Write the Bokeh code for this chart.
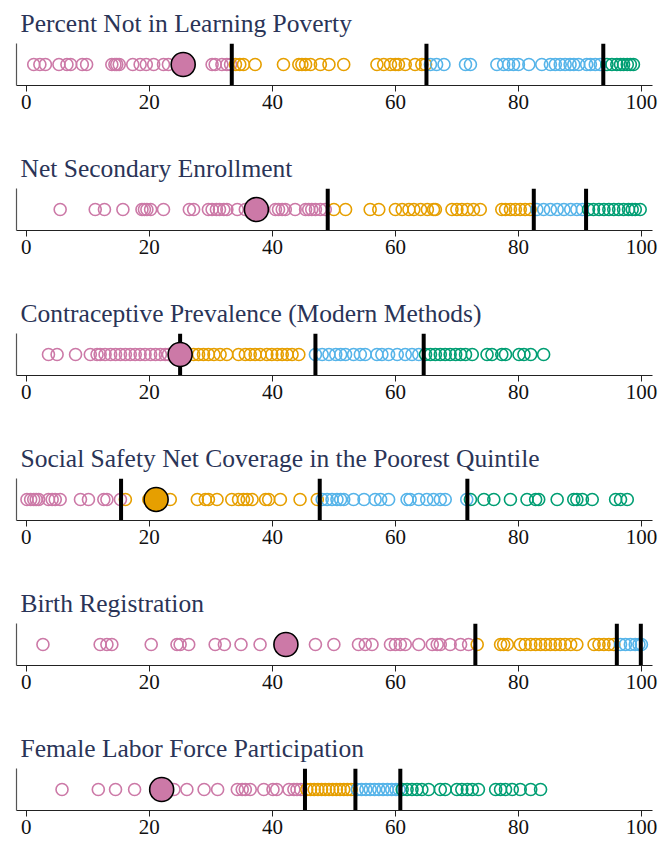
from bokeh.plotting import figure
from bokeh.layouts import column
from bokeh.models import Range1d, FixedTicker
from bokeh.embed import file_html
from bokeh.resources import INLINE

# ---------------- data ----------------
titles = [
    "Percent Not in Learning Poverty",
    "Net Secondary Enrollment",
    "Contraceptive Prevalence (Modern Methods)",
    "Social Safety Net Coverage in the Poorest Quintile",
    "Birth Registration",
    "Female Labor Force Participation",
]

# Panel 1
p1_q1 = [1.2, 2.2, 3.1, 5.3, 6.6, 7.2, 9.1, 9.8, 13.9, 14.4, 14.7, 15.1, 17.3, 18.5, 19.5, 20.7, 22.3, 23.1, 30.2, 30.7, 31.8, 32.6, 33.2]
p1_q2 = [34.0, 34.7, 35.3, 37.2, 41.8, 44.3, 44.8, 45.4, 46.2, 47.8, 49.2, 51.6, 57.0, 58.1, 59.2, 60.0, 60.5, 61.6, 63.2, 64.3, 64.9]
p1_q3 = [65.7, 66.7, 67.9, 71.4, 72.2, 76.5, 77.6, 78.4, 79.2, 80.0, 81.7, 83.8, 85.2, 86.0, 86.8, 87.6, 88.4, 89.0, 89.8, 91.1, 91.7, 92.5, 93.3]
p1_q4 = [94.4, 95.2, 96.0, 96.6, 97.1, 97.7, 98.2, 98.7]
p1_cut = [33.4, 65.05, 93.8]
p1_hi = 25.5

# Panel 2
p2_q1 = [5.5, 11.2, 12.7, 15.7, 18.8, 19.2, 19.6, 20.2, 22.3, 26.5, 27.2, 29.6, 30.2, 30.9, 31.4, 32.1, 32.6, 34.3, 35.6, 40.5, 41.0, 41.6, 42.1, 43.7, 45.4, 45.9, 46.4, 47.0, 47.8, 48.6]
p2_q2 = [50.0, 51.9, 55.9, 57.3, 60.0, 61.1, 62.2, 63.0, 64.1, 65.2, 66.2, 66.5, 69.2, 70.0, 70.8, 71.7, 72.7, 73.8, 77.3, 77.9, 78.7, 79.5, 80.3, 81.1, 81.9]
p2_q3 = [83.0, 84.1, 85.2, 86.3, 87.4, 88.5, 89.5, 90.4]
p2_q4 = [91.4, 92.2, 93.1, 93.9, 94.7, 95.5, 96.3, 97.1, 97.9, 98.5, 99.0, 99.8]
p2_cut = [49.0, 82.5, 91.0]
p2_hi = 37.4

# Panel 3
p3_q1 = [3.6, 5.0, 8.0, 10.4, 11.5, 12.0, 12.8, 13.7, 14.5, 15.3, 16.1, 16.9, 17.7, 18.5, 19.3, 20.2, 21.0, 21.8, 22.6, 23.1]
p3_q2 = [27.2, 28.0, 28.8, 29.6, 30.5, 31.5, 32.6, 34.5, 35.6, 36.4, 37.2, 38.0, 39.1, 39.9, 40.8, 41.6, 42.4, 43.2, 44.3]
p3_q3 = [47.0, 48.1, 49.2, 50.3, 51.1, 51.9, 53.2, 54.3, 55.1, 57.0, 57.8, 58.9, 60.3, 61.6, 62.7, 63.8]
p3_q4 = [64.9, 65.7, 66.5, 67.3, 68.1, 68.9, 69.8, 70.6, 71.4, 72.5, 74.9, 75.7, 77.3, 77.9, 80.1, 80.9, 82.0, 84.1]
p3_cut = [25.0, 47.0, 64.6]
p3_hi = 25.0

# Panel 4
p4_q1 = [0.1, 0.7, 1.2, 1.6, 2.0, 3.6, 4.2, 4.7, 5.5, 8.8, 10.1, 12.6, 13.1, 15.3]
p4_q2 = [16.1, 19.9, 23.4, 27.8, 29.1, 29.6, 31.0, 33.4, 34.5, 35.3, 35.9, 36.7, 38.9, 39.4, 41.3, 44.5, 47.3]
p4_q3 = [48.1, 48.9, 49.7, 50.5, 51.1, 51.6, 53.2, 54.9, 56.7, 57.6, 58.9, 61.9, 62.4, 63.8, 65.1, 66.2, 67.3, 68.1, 71.6]
p4_q4 = [72.2, 74.4, 76.0, 78.7, 81.4, 82.8, 83.3, 86.3, 89.0, 89.5, 90.4, 92.0, 95.8, 96.6, 97.7]
p4_cut = [15.4, 47.7, 71.7]
p4_hi = 21.1

# Panel 5
p5_q1 = [2.7, 12.0, 13.1, 13.9, 20.3, 24.5, 25.0, 26.4, 30.7, 32.2, 34.9, 38.0, 47.0, 50.0, 54.0, 55.1, 56.2, 59.2, 60.0, 60.8, 61.6, 63.8, 66.0, 66.8, 67.3, 68.9, 70.6, 71.9]
p5_q2 = [73.3, 77.1, 77.6, 78.2, 80.3, 81.1, 82.0, 82.8, 83.6, 84.4, 85.2, 86.0, 86.8, 87.6, 88.5, 89.5, 92.3, 93.1, 93.9, 94.7, 95.5]
p5_q3 = [96.6, 97.4, 98.2, 99.0, 99.6, 100.0]
p5_q4 = []
p5_cut = [73.0, 96.0, 99.9]
p5_hi = 42.2

# Panel 6
p6_q1 = [5.8, 11.7, 14.5, 17.6, 24.0, 26.1, 28.9, 31.1, 34.3, 35.1, 35.6, 36.4, 38.6, 40.1, 40.7, 42.7, 43.5, 44.0, 44.6]
p6_q2 = [45.6, 46.2, 46.8, 47.4, 48.0, 48.6, 49.2, 49.8, 50.4, 51.0, 51.6, 52.2, 52.8]
p6_q3 = [53.8, 54.5, 55.2, 55.9, 56.6, 57.3, 58.0, 58.7, 59.4, 60.1, 60.6]
p6_q4 = [61.1, 61.9, 62.7, 63.5, 64.3, 65.4, 67.3, 68.1, 70.0, 70.8, 71.7, 72.5, 73.5, 76.3, 77.1, 77.9, 79.0, 80.3, 82.0, 83.6]
p6_cut = [45.3, 53.5, 60.8]
p6_hi = 22.0

panels = [
    (p1_q1, p1_q2, p1_q3, p1_q4, p1_cut, p1_hi, 0),
    (p2_q1, p2_q2, p2_q3, p2_q4, p2_cut, p2_hi, 0),
    (p3_q1, p3_q2, p3_q3, p3_q4, p3_cut, p3_hi, 0),
    (p4_q1, p4_q2, p4_q3, p4_q4, p4_cut, p4_hi, 1),
    (p5_q1, p5_q2, p5_q3, p5_q4, p5_cut, p5_hi, 0),
    (p6_q1, p6_q2, p6_q3, p6_q4, p6_cut, p6_hi, 0),
]

x_ticks = [0, 20, 40, 60, 80, 100]
colors = ["#CC79A7", "#E69F00", "#56B4E9", "#009E73"]

FONT = "Liberation Serif"
figs = []
for i, (t, pan) in enumerate(zip(titles, panels)):
    q1, q2, q3, q4, cut, hi, hi_group = pan
    first = (i == 0)
    last = (i == len(titles) - 1)
    p = figure(
        frame_width=636, frame_height=42,
        min_border_left=16, min_border_right=11,
        min_border_top=(40 if first else 43),
        min_border_bottom=(34 if last else 60),
        x_range=Range1d(-1.6, 101.8), y_range=Range1d(-1, 1),
        output_backend="svg", toolbar_location=None,
        title=t,
    )
    p.title.text_font = FONT
    p.title.text_font_size = "25.5px"
    p.title.text_font_style = "normal"
    p.title.text_color = "#2a3457"
    p.title.offset = 4
    p.title.standoff = 12
    p.outline_line_color = None
    p.grid.visible = False
    p.background_fill_color = "white"
    p.border_fill_color = "white"

    # axes
    p.yaxis.ticker = FixedTicker(ticks=[])
    p.yaxis.major_tick_line_color = None
    p.yaxis.minor_tick_line_color = None
    p.yaxis.axis_line_color = "#555555"
    p.yaxis.axis_line_width = 1.2

    p.xaxis.ticker = FixedTicker(ticks=x_ticks)
    p.xaxis.minor_tick_line_color = None
    p.xaxis.major_tick_in = 0
    p.xaxis.major_tick_out = 6
    p.xaxis.major_tick_line_color = "#222222"
    p.xaxis.axis_line_color = "#222222"
    p.xaxis.axis_line_width = 1.2
    p.xaxis.major_label_text_font = FONT
    p.xaxis.major_label_text_font_size = "21px"
    p.xaxis.major_label_text_color = "#111111"
    p.xaxis.major_label_standoff = 3

    for grp, col in zip([q1, q2, q3, q4], colors):
        if len(grp) == 0:
            continue
        p.scatter(x=grp, y=[0] * len(grp), size=12, marker="circle",
                  fill_alpha=0, line_color=col, line_width=1.6)

    p.segment(x0=cut, x1=cut, y0=[-1] * len(cut), y1=[1] * len(cut),
              line_color="black", line_width=4, line_cap="butt")

    p.scatter(x=[hi], y=[0], size=24, marker="circle",
              fill_color=colors[hi_group], line_color="black", line_width=1.6)
    figs.append(p)

layout = column(*figs, spacing=0)
open("out.html", "w").write(file_html(layout, INLINE))
